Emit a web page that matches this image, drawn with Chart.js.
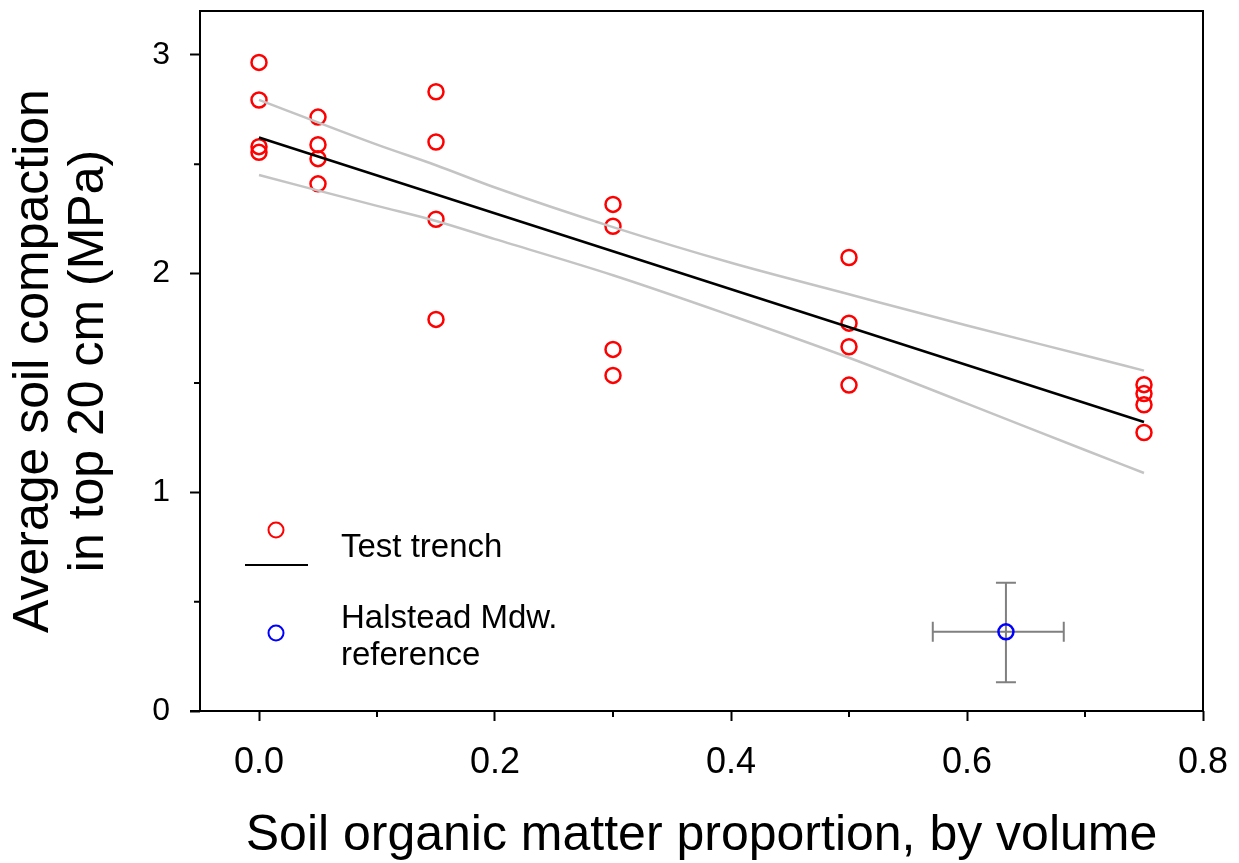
<!DOCTYPE html>
<html>
<head>
<meta charset="utf-8">
<script src="https://cdn.jsdelivr.net/npm/chart.js@4/dist/chart.umd.min.js"></script>
<style>
  body { margin: 0; background: #fff; }
  canvas { display: block; }
</style>
</head>
<body>
<canvas id="soilChart" width="1239" height="863"></canvas>
<script>
// Test trench measurements (x = organic matter proportion, y = compaction MPa)
const trenchX = [0, 0, 0, 0, 0.05, 0.05, 0.05, 0.05, 0.15, 0.15, 0.15, 0.15,
                 0.3, 0.3, 0.3, 0.3, 0.5, 0.5, 0.5, 0.5, 0.75, 0.75, 0.75, 0.75];
const trenchY = [2.965, 2.793, 2.580, 2.554, 2.715, 2.589, 2.525, 2.410, 2.831, 2.601, 2.248, 1.790,
                 2.316, 2.216, 1.653, 1.534, 2.073, 1.773, 1.665, 1.490, 1.492, 1.451, 1.400, 1.273];

// regression line and confidence band
const fitX = [0, 0.75];
const fitY = [2.622, 1.321];
const bandX = [0, 0.1, 0.15, 0.2, 0.3, 0.4, 0.5, 0.6, 0.7, 0.75];
const upperY = [2.794, 2.589, 2.495, 2.393, 2.212, 2.049, 1.905, 1.762, 1.625, 1.556];
const lowerY = [2.450, 2.309, 2.240, 2.157, 1.992, 1.808, 1.615, 1.405, 1.193, 1.088];

// Halstead Mdw. reference point with error ranges
const refX = [0.633];
const refY = [0.362];
const refXRange = [0.571, 0.682];
const refYRange = [0.131, 0.586];

// ticks
const xTickValues = [0, 0.1, 0.2, 0.3, 0.4, 0.5, 0.6, 0.7, 0.8];
const xTickLabels = ['0.0', '', '0.2', '', '0.4', '', '0.6', '', '0.8'];
const yTickValues = [0, 0.5, 1, 1.5, 2, 2.5, 3];
const yTickLabels = ['0', '', '1', '', '2', '', '3'];

const FONT = "'Liberation Sans', Arial, Helvetica, sans-serif";

const toPoints = (xs, ys) => xs.map((x, i) => ({ x: x, y: ys[i] }));

// frame, minor ticks, error bars and the legend block
const decorPlugin = {
    id: 'decor',
    beforeDatasetsDraw(chart) {
        const ctx = chart.ctx;
        const xs = chart.scales.x, ys = chart.scales.y;
        const cx = xs.getPixelForValue(refX[0]);
        const cy = ys.getPixelForValue(refY[0]);
        const x1 = xs.getPixelForValue(refXRange[0]), x2 = xs.getPixelForValue(refXRange[1]);
        const y1 = ys.getPixelForValue(refYRange[0]), y2 = ys.getPixelForValue(refYRange[1]);
        const cap = 10;
        ctx.save();
        ctx.strokeStyle = '#808080';
        ctx.lineWidth = 2;
        ctx.beginPath();
        ctx.moveTo(x1, cy); ctx.lineTo(x2, cy);
        ctx.moveTo(x1, cy - cap); ctx.lineTo(x1, cy + cap);
        ctx.moveTo(x2, cy - cap); ctx.lineTo(x2, cy + cap);
        ctx.moveTo(cx, y1); ctx.lineTo(cx, y2);
        ctx.moveTo(cx - cap, y1); ctx.lineTo(cx + cap, y1);
        ctx.moveTo(cx - cap, y2); ctx.lineTo(cx + cap, y2);
        ctx.stroke();
        ctx.restore();
    },
    afterDraw(chart) {
        const ctx = chart.ctx;
        const a = chart.chartArea;
        const xs = chart.scales.x, ys = chart.scales.y;
        ctx.save();
        ctx.strokeStyle = '#000';
        ctx.lineWidth = 2;
        ctx.strokeRect(a.left, a.top, a.right - a.left, a.bottom - a.top);
        ctx.beginPath();
        ctx.moveTo(a.left - 10, a.bottom);
        ctx.lineTo(a.left, a.bottom);
        // minor ticks
        xTickValues.forEach((v, i) => {
            if (xTickLabels[i] !== '') return;
            const px = xs.getPixelForValue(v);
            ctx.moveTo(px, a.bottom); ctx.lineTo(px, a.bottom + 6);
        });
        yTickValues.forEach((v, i) => {
            if (yTickLabels[i] !== '') return;
            const py = ys.getPixelForValue(v);
            ctx.moveTo(a.left, py); ctx.lineTo(a.left - 6, py);
        });
        ctx.stroke();

        // legend
        ctx.lineWidth = 2;
        ctx.strokeStyle = '#ff0000';
        ctx.beginPath(); ctx.arc(276, 530, 7.5, 0, Math.PI * 2); ctx.stroke();
        ctx.strokeStyle = '#000';
        ctx.beginPath(); ctx.moveTo(245, 565); ctx.lineTo(308, 565); ctx.stroke();
        ctx.strokeStyle = '#0000ff';
        ctx.beginPath(); ctx.arc(276, 633, 7.5, 0, Math.PI * 2); ctx.stroke();
        ctx.fillStyle = '#000';
        ctx.font = '33px ' + FONT;
        ctx.textAlign = 'left';
        ctx.textBaseline = 'alphabetic';
        ctx.fillText('Test trench', 341, 557);
        ctx.fillText('Halstead Mdw.', 341, 628);
        ctx.fillText('reference', 341, 665);
        ctx.restore();
    }
};

new Chart(document.getElementById('soilChart'), {
    type: 'scatter',
    data: {
        datasets: [
            {
                label: 'Upper band',
                data: toPoints(bandX, upperY),
                showLine: true,
                borderColor: '#c4c4c4',
                borderWidth: 2.5,
                pointRadius: 0,
                cubicInterpolationMode: 'monotone'
            },
            {
                label: 'Lower band',
                data: toPoints(bandX, lowerY),
                showLine: true,
                borderColor: '#c4c4c4',
                borderWidth: 2.5,
                pointRadius: 0,
                cubicInterpolationMode: 'monotone'
            },
            {
                label: 'Fit',
                data: toPoints(fitX, fitY),
                showLine: true,
                borderColor: '#000',
                borderWidth: 2.5,
                pointRadius: 0
            },
            {
                label: 'Test trench',
                data: toPoints(trenchX, trenchY),
                pointStyle: 'circle',
                pointRadius: 7.5,
                pointBorderWidth: 2.5,
                borderColor: '#ff0000',
                backgroundColor: 'rgba(0,0,0,0)'
            },
            {
                label: 'Halstead Mdw. reference',
                data: toPoints(refX, refY),
                pointStyle: 'circle',
                pointRadius: 7.5,
                pointBorderWidth: 2.5,
                borderColor: '#0000ff',
                backgroundColor: 'rgba(0,0,0,0)'
            }
        ]
    },
    options: {
        responsive: false,
        animation: false,
        layout: { padding: { top: 11, right: 36, left: 0, bottom: 0 } },
        plugins: {
            legend: { display: false },
            tooltip: { enabled: false }
        },
        scales: {
            x: {
                type: 'linear',
                min: -0.05,
                max: 0.8,
                afterFit: s => { s.height = 152; s.paddingLeft = 0; s.paddingRight = 0; },
                afterBuildTicks: s => { s.ticks = xTickValues.map(v => ({ value: v })); },
                border: { display: false },
                grid: {
                    drawOnChartArea: false,
                    tickLength: 10,
                    tickWidth: 2,
                    tickColor: c => xTickLabels[c.index] ? '#000' : 'rgba(0,0,0,0)'
                },
                ticks: {
                    autoSkip: false,
                    maxRotation: 0,
                    padding: 20,
                    color: '#000',
                    font: { family: FONT, size: 36 },
                    callback: (v, i) => xTickLabels[i]
                },
                title: {
                    display: true,
                    text: 'Soil organic matter proportion, by volume',
                    color: '#000',
                    font: { family: FONT, size: 50, lineHeight: 1.06 },
                    padding: { top: 0, bottom: 0 }
                }
            },
            y: {
                type: 'linear',
                min: 0,
                max: 3.2,
                afterFit: s => { s.width = 200; s.paddingTop = 0; s.paddingBottom = 0; },
                afterBuildTicks: s => { s.ticks = yTickValues.map(v => ({ value: v })); },
                border: { display: false },
                grid: {
                    drawOnChartArea: false,
                    tickLength: 10,
                    tickWidth: 2,
                    tickColor: c => yTickLabels[c.index] ? '#000' : 'rgba(0,0,0,0)'
                },
                ticks: {
                    autoSkip: false,
                    padding: 20,
                    color: '#000',
                    font: { family: FONT, size: 32 },
                    callback: (v, i) => yTickLabels[i]
                },
                title: {
                    display: true,
                    text: ['Average soil compaction', 'in top 20 cm (MPa)'],
                    color: '#000',
                    font: { family: FONT, size: 50, lineHeight: 1.1 },
                    padding: { top: 7, bottom: 0 }
                }
            }
        }
    },
    plugins: [decorPlugin]
});
</script>
</body>
</html>
